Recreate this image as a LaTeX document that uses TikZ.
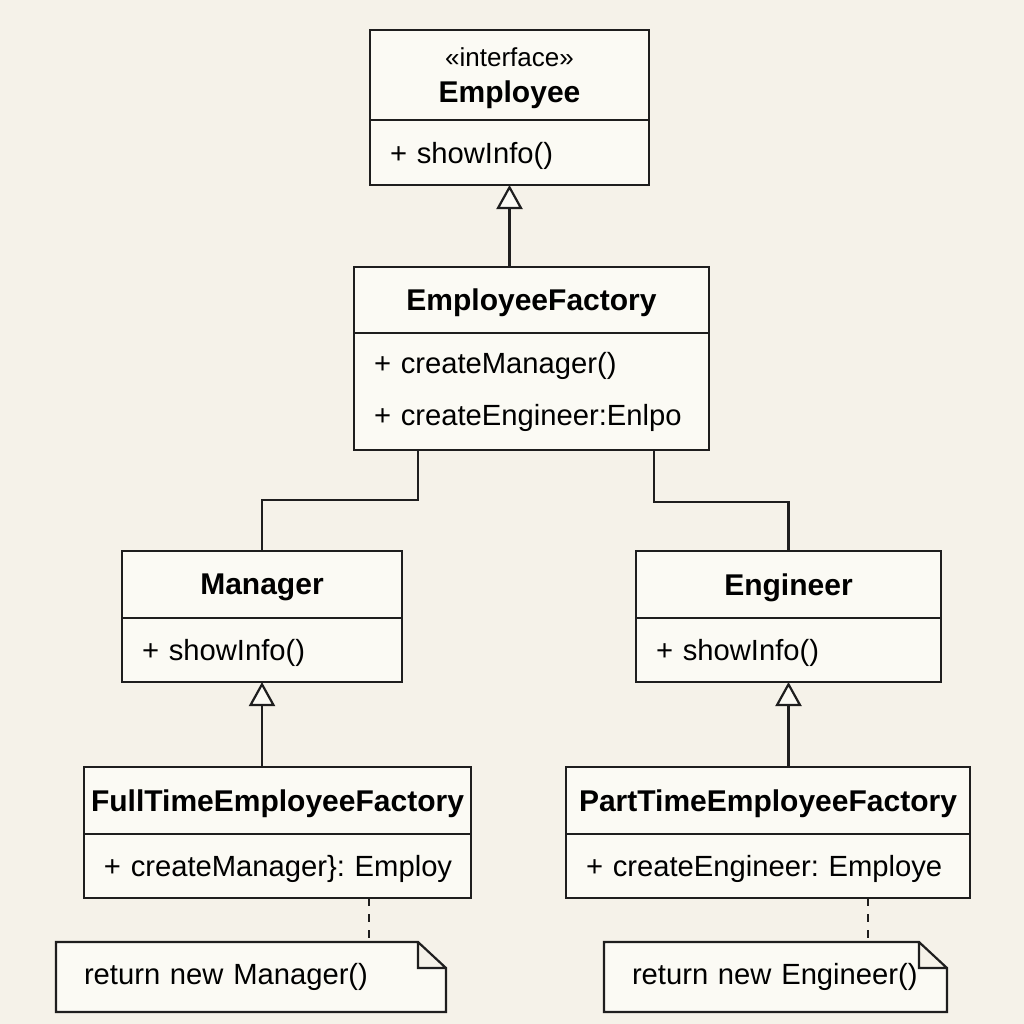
\documentclass[tikz,border=0pt]{standalone}
\usepackage{fontspec}
\setmainfont{Liberation Sans}
\usetikzlibrary{positioning,arrows.meta,backgrounds}

\definecolor{paper}{HTML}{F5F2E9}
\definecolor{boxfill}{HTML}{FBFAF4}
\definecolor{ink}{HTML}{1E1E1E}
\frenchspacing
\newcommand{\titlefont}{\bfseries\fontsize{15}{18}\selectfont}
\newcommand{\bodyfont}{\fontsize{14.6}{17.5}\selectfont}

\tikzset{
  classhead/.style={draw=ink, fill=boxfill, line width=1.1pt, inner sep=0pt, outer sep=0pt, text depth=0pt, align=center, font=\titlefont},
  classbody/.style={draw=ink, fill=boxfill, line width=1.1pt, inner xsep=10pt, inner ysep=0pt, outer sep=0pt, text depth=0pt, align=left, font=\bodyfont},
  notebox/.style={inner xsep=14pt, inner ysep=0pt, outer sep=0pt, align=left, font=\bodyfont, minimum height=35pt},
  inherit/.style={draw=ink, line width=1.1pt, -{Triangle[open, length=12pt, width=13pt, fill=boxfill]}},
  link/.style={draw=ink, line width=1.1pt},
  notelink/.style={draw=ink, line width=1.1pt, dash pattern=on 4pt off 4pt}
}

\begin{document}
\begin{tikzpicture}[x=0.5pt, y=-0.5pt]
\begin{scope}[on background layer]
\fill[paper] (0,0) rectangle (1024,1024);
\end{scope}
% Classes
\node[classhead, minimum width=139.5pt, minimum height=45pt] (employee) at (509.5,75)
  {{\fontsize{13}{16}\selectfont\mdseries «interface»}\\ Employee};
\node[classbody, text width=119.5pt, minimum height=32.5pt, below=0pt of employee] (employeeops) {+ showInfo()};

\node[classhead, minimum width=177.5pt, minimum height=33pt] (factory) at (531.5,300) {EmployeeFactory};
\node[classbody, text depth={}, text width=157.5pt, minimum height=58.5pt, below=0pt of factory] (factoryops)
  {\mbox{+ createManager()}\\[8.5pt]\mbox{+ createEngineer:Enlpo}};

\node[classhead, minimum width=140pt, minimum height=33.5pt] (manager) at (262,584.5) {Manager};
\node[classbody, text width=120pt, minimum height=32pt, below=0pt of manager] (managerops) {+ showInfo()};

\node[classhead, minimum width=152.5pt, minimum height=33.5pt] (engineer) at (788.5,584.5) {Engineer};
\node[classbody, text width=132.5pt, minimum height=32pt, below=0pt of engineer] (engineerops) {+ showInfo()};

\node[classhead, minimum width=193.5pt, minimum height=33.5pt] (fulltime) at (277.5,800.5) {FullTimeEmployeeFactory};
\node[classbody, text width=173.5pt, minimum height=32pt, below=0pt of fulltime] (fulltimeops) {\mbox{+ createManager\}: Employ}};

\node[classhead, minimum width=202pt, minimum height=33.5pt] (parttime) at (768,800.5) {PartTimeEmployeeFactory};
\node[classbody, text width=182pt, minimum height=32pt, below=0pt of parttime] (parttimeops) {\mbox{+ createEngineer: Employe}};

% Notes
\node[notebox, text width=167pt] (mnote) at (251,977) {return new Manager()};
\node[notebox, text width=143.5pt] (enote) at (775.5,977) {return new Engineer()};
\begin{scope}[on background layer]
\foreach \n in {mnote,enote}
  \draw[ink, line width=1.1pt, fill=boxfill, line join=miter]
    (\n.north west) -- ([xshift=-14pt]\n.north east) -- ([yshift=-13pt]\n.north east)
    -- (\n.south east) -- (\n.south west) -- cycle
    ([xshift=-14pt]\n.north east) |- ([yshift=-13pt]\n.north east);
\end{scope}

% Connectors
\draw[inherit] (factory.north -| employeeops.south) -- (employeeops.south);
\draw[link] ([xshift=32pt]factoryops.south west) -- ++(0,-25pt) -| (manager.north);
\draw[link] ([xshift=150pt]factoryops.south west) -- ++(0,-26pt) -| (engineer.north);
\draw[inherit] (fulltime.north -| managerops.south) -- (managerops.south);
\draw[inherit] (parttime.north -| engineerops.south) -- (engineerops.south);
\coordinate (mtie) at ([xshift=142.5pt]fulltimeops.south west);
\coordinate (etie) at ([xshift=151pt]parttimeops.south west);
\draw[notelink] (mtie) -- (mtie |- mnote.north);
\draw[notelink] (etie) -- (etie |- enote.north);
\end{tikzpicture}
\end{document}
